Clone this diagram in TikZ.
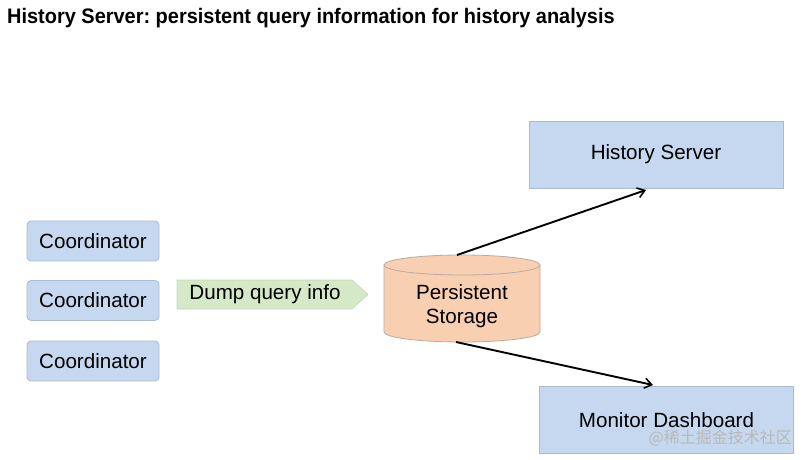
\documentclass[tikz,border=0pt]{standalone}
\usepackage{fontspec}
\setmainfont{Liberation Sans}
\newfontfamily\cjk{Noto Sans CJK SC}
\usetikzlibrary{arrows.meta}
\frenchspacing
\definecolor{boxblue}{HTML}{C6D8F0}
\definecolor{boxblueline}{HTML}{A9BCD4}
\definecolor{dumpgreen}{HTML}{D5E8C8}
\definecolor{dumpgreenline}{HTML}{C3D8B4}
\definecolor{peach}{HTML}{F8CFB0}
\definecolor{peachline}{HTML}{B9ABA0}
\definecolor{wmgray}{HTML}{B8B8B8}
\tikzset{
  bluebox/.style={fill=boxblue, draw=boxblueline, line width=0.8pt, inner sep=0pt},
  coordbox/.style={bluebox, rounded corners=4pt, minimum width=132pt, minimum height=40pt},
  bigbox/.style={bluebox, minimum width=254pt, minimum height=67pt},
  lbl/.style={font=\fontsize{20.6}{24}\selectfont, text=black, align=center},
  conn/.style={line width=1.9pt, -{Straight Barb[length=7pt,width=10pt,line width=1.6pt]}},
}
\begin{document}
\begin{tikzpicture}[x=1pt,y=-1pt]
\useasboundingbox[fill=white] (0,0) rectangle (808,460);
% title
\node[anchor=base west, inner sep=0pt] (title) at (7,24)
  {\scalebox{0.95}[1]{\fontsize{21}{21}\selectfont\bfseries History Server: persistent query information for history analysis}};
% coordinators
\node[coordbox, lbl] (c1) at (93,241) {Coordinator};
\node[coordbox, lbl] (c2) at (93,300.5) {Coordinator};
\node[coordbox, lbl] (c3) at (93,361) {Coordinator};
% dump arrow shape
\path[fill=dumpgreen, draw=dumpgreenline, line width=0.6pt]
  (177,280) -- (352,280) -- (368,294.5) -- (352,309) -- (177,309) -- cycle;
\node[lbl, inner sep=0pt] (dump) at (265,294.5) {Dump query info};
% cylinder
\path[fill=peach, draw=peachline, line width=0.8pt]
  (384,265) -- (384,332) arc[start angle=180, end angle=0, x radius=78, y radius=10] -- (540,265);
\path[fill=peach, draw=peachline, line width=0.8pt] (462,265) ellipse[x radius=78, y radius=10];
\node[lbl, inner sep=0pt] (storage) at (462,306) {Persistent\\Storage};
\coordinate (sttop) at (457,255);
\coordinate (stbot) at (456,342);
% right boxes
\node[bigbox, lbl] (hist) at (656,154.5) {History Server};
\node[bigbox, lbl] (mon) at (666.5,420) {Monitor Dashboard};
\coordinate (histin) at (646,190);
\coordinate (monin) at (653,385);
% connectors
\draw[conn] (sttop) -- (histin);
\draw[conn] (stbot) -- (monin);
% watermark
\node[anchor=east, inner sep=0pt, text=wmgray, font=\fontsize{16}{16}\selectfont] (wm) at (792,438) {\cjk @稀土掘金技术社区};
\end{tikzpicture}
\end{document}
